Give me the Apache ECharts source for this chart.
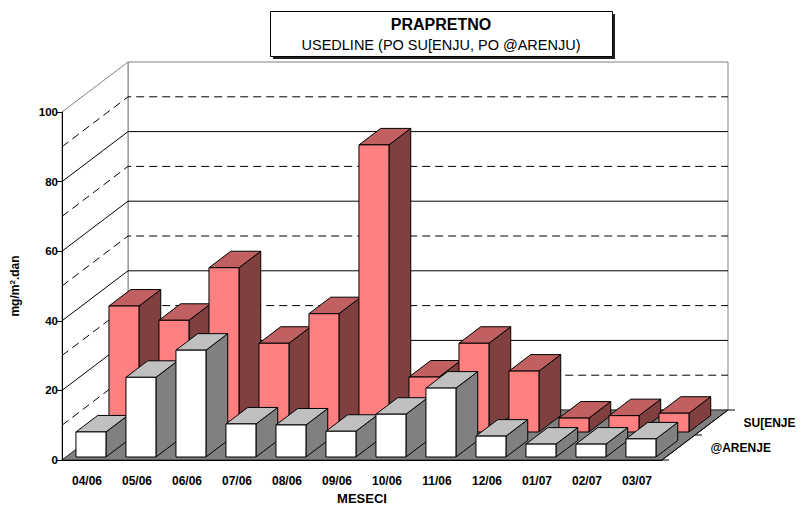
<!DOCTYPE html>
<html>
<head>
<meta charset="utf-8">
<script src="https://cdn.jsdelivr.net/npm/echarts@6/dist/echarts.min.js"></script>
<style>
  html, body { margin: 0; padding: 0; background: #fff; overflow: hidden; width: 806px; height: 510px; }
  #chart { width: 806px; height: 510px; display: block; }
</style>
</head>
<body>
<div id="chart"></div>
<script>
// Monthly deposited dust, two sample treatments, in mg/m².dan
const categories = ['04/06', '05/06', '06/06', '07/06', '08/06', '09/06', '10/06', '11/06', '12/06', '01/07', '02/07', '03/07'];
const suenje = [36.2, 32.1, 47.2, 25.5, 34.0, 82.5, 15.8, 25.5, 17.5, 4.0, 4.7, 5.4];
const zarenje = [7.2, 22.9, 30.7, 9.5, 9.2, 7.4, 12.3, 19.8, 6.0, 3.7, 3.7, 5.2];
const seriesNames = ['SU[ENJE', '@ARENJE'];
const yTicks = { min: 0, max: 100, interval: 20, minor: 10 };
const titleText = 'PRAPRETNO';
const subtitleText = 'USEDLINE (PO SU[ENJU, PO @ARENJU)';

// Oblique projection of the depth axis (pixels for the full floor depth)
const DX = 66, DY = -50;
const BAR_DEPTH = 0.33;      // fraction of the floor depth taken by one bar
const BAR_WIDTH = 0.6;       // fraction of a category slot
const ROW_START = [0.56, 0.06]; // back row, front row
const FONT = '"Liberation Sans", Arial, sans-serif';

const palettes = [
  { front: '#FF8080', top: '#C06060', side: '#804040' },
  { front: '#FFFFFF', top: '#C0C0C0', side: '#808080' }
];

function renderFrame(params, api) {
  const bw = api.size([1, 0])[0];
  const n = categories.length;
  const x0 = api.coord([0, 0])[0] - bw / 2;
  const x1 = api.coord([n - 1, 0])[0] + bw / 2;
  const yv = v => api.coord([0, v])[1];
  const yb = yv(yTicks.min);
  const yt = yv(yTicks.max);
  const children = [];

  // back wall
  children.push({
    type: 'polygon',
    shape: { points: [[x0 + DX, yt + DY], [x1 + DX, yt + DY], [x1 + DX, yb + DY], [x0 + DX, yb + DY]] },
    style: { fill: '#fff', stroke: '#808080', lineWidth: 1 }
  });
  // side wall
  children.push({
    type: 'polygon',
    shape: { points: [[x0, yb], [x0 + DX, yb + DY], [x0 + DX, yt + DY], [x0, yt]] },
    style: { fill: '#fff', stroke: '#808080', lineWidth: 1 }
  });
  // gridlines running along the side wall and the back wall
  for (let v = yTicks.min + yTicks.minor; v < yTicks.max; v += yTicks.minor) {
    const y = yv(v);
    const major = v % yTicks.interval === 0;
    children.push({
      type: 'polyline',
      shape: { points: [[x0, y], [x0 + DX, y + DY], [x1 + DX, y + DY]] },
      style: { stroke: '#000', lineWidth: 1, fill: null, lineDash: major ? null : [8, 5] }
    });
  }
  // floor
  children.push({
    type: 'polygon',
    shape: { points: [[x0, yb], [x1, yb], [x1 + DX, yb + DY], [x0 + DX, yb + DY]] },
    style: { fill: '#808080', stroke: '#303030', lineWidth: 1 }
  });
  // depth (series) axis
  children.push({
    type: 'line',
    shape: { x1: x1, y1: yb, x2: x1 + DX, y2: yb + DY },
    style: { stroke: '#000', lineWidth: 1 }
  });
  [0, 0.5, 1].forEach(d => {
    children.push({
      type: 'line',
      shape: { x1: x1 + d * DX, y1: yb + d * DY, x2: x1 + d * DX + 7, y2: yb + d * DY },
      style: { stroke: '#000', lineWidth: 1 }
    });
  });
  [0.75, 0.25].forEach((d, k) => {
    children.push({
      type: 'text',
      x: x1 + d * DX + 32,
      y: yb + d * DY,
      style: {
        text: seriesNames[k], fill: '#000', font: 'bold 12px ' + FONT,
        align: 'left', verticalAlign: 'middle'
      }
    });
  });
  return { type: 'group', children: children };
}

function barRenderer(row) {
  const pal = palettes[row];
  const d0 = ROW_START[row];
  const d1 = d0 + BAR_DEPTH;
  return function (params, api) {
    const i = api.value(0);
    const v = api.value(1);
    const bw = api.size([1, 0])[0];
    const top = api.coord([i, v]);
    const base = api.coord([i, 0]);
    const half = bw * BAR_WIDTH / 2;
    const l = top[0] - half, r = top[0] + half;
    const fx = d0 * DX, fy = d0 * DY, bx = d1 * DX, by = d1 * DY;
    const yt = top[1], yb = base[1];
    const st = fill => ({ fill: fill, stroke: '#000', lineWidth: 1, lineJoin: 'round' });
    return {
      type: 'group',
      children: [
        { type: 'polygon', shape: { points: [[r + fx, yt + fy], [r + bx, yt + by], [r + bx, yb + by], [r + fx, yb + fy]] }, style: st(pal.side) },
        { type: 'polygon', shape: { points: [[l + fx, yt + fy], [r + fx, yt + fy], [r + bx, yt + by], [l + bx, yt + by]] }, style: st(pal.top) },
        { type: 'polygon', shape: { points: [[l + fx, yt + fy], [r + fx, yt + fy], [r + fx, yb + fy], [l + fx, yb + fy]] }, style: st(pal.front) }
      ]
    };
  };
}

const chart = echarts.init(document.getElementById('chart'), null, { renderer: 'svg', width: 806, height: 510 });
chart.setOption({
  animation: false,
  backgroundColor: '#fff',
  grid: { left: 62, right: 144, top: 112, bottom: 49 },
  xAxis: {
    type: 'category',
    data: categories,
    z: 10,
    axisLine: { lineStyle: { color: '#000', width: 1 } },
    axisTick: { length: 8, lineStyle: { color: '#000' } },
    axisLabel: { color: '#000', fontFamily: FONT, fontWeight: 'bold', fontSize: 12, margin: 15 },
    name: 'MESECI',
    nameLocation: 'middle',
    nameGap: 32,
    nameTextStyle: { color: '#000', fontFamily: FONT, fontWeight: 'bold', fontSize: 13 }
  },
  yAxis: {
    type: 'value',
    min: yTicks.min, max: yTicks.max, interval: yTicks.interval,
    z: 10,
    axisLine: { show: true, lineStyle: { color: '#000', width: 1 } },
    axisTick: { show: true, length: 5, lineStyle: { color: '#000' } },
    splitLine: { show: false },
    axisLabel: { color: '#000', fontFamily: FONT, fontWeight: 'bold', fontSize: 11.5, margin: 4 },
    name: 'mg/m{sup|2}.dan',
    nameLocation: 'middle',
    nameGap: 40,
    nameRotate: 90,
    nameTextStyle: {
      color: '#000', fontFamily: FONT, fontWeight: 'bold', fontSize: 12,
      rich: { sup: { fontSize: 8, fontWeight: 'bold', fontFamily: FONT, verticalAlign: 'top', padding: [0, 0, 6, 0] } }
    }
  },
  graphic: [
    { type: 'rect', left: 273, top: 14, shape: { width: 342, height: 45 }, style: { fill: '#202020' }, z: 20 },
    { type: 'rect', left: 270, top: 11, shape: { width: 342, height: 45 }, style: { fill: '#fff', stroke: '#000', lineWidth: 1 }, z: 21 },
    { type: 'text', x: 441, y: 24, style: { text: titleText, fill: '#000', font: 'bold 16px ' + FONT, align: 'center', verticalAlign: 'middle' }, z: 22 },
    { type: 'text', x: 441, y: 45, style: { text: subtitleText, fill: '#000', font: '14.5px ' + FONT, align: 'center', verticalAlign: 'middle' }, z: 22 }
  ],
  series: [
    { type: 'custom', name: 'frame', z: 1, silent: true, renderItem: renderFrame, data: [[0, 0]] },
    { type: 'custom', name: seriesNames[0], z: 2, renderItem: barRenderer(0), data: suenje.map((v, i) => [i, v]) },
    { type: 'custom', name: seriesNames[1], z: 3, renderItem: barRenderer(1), data: zarenje.map((v, i) => [i, v]) }
  ]
});
</script>
</body>
</html>
